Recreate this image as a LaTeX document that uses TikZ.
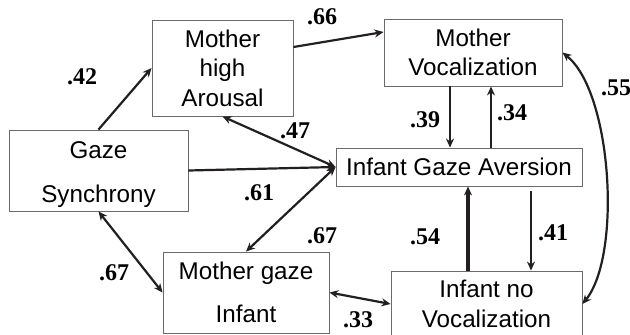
\documentclass[tikz,border=0pt]{standalone}
\usepackage{fontspec}
\setmainfont{Liberation Sans}
\newfontfamily\coeffont{Liberation Serif}
\usetikzlibrary{arrows.meta}
\definecolor{boxgray}{HTML}{6A6A6A}
\definecolor{inkdark}{HTML}{231F20}

\begin{document}
\begin{tikzpicture}[x=1pt,y=-1pt,
  box/.style={draw=boxgray, line width=0.9pt, inner sep=0pt, align=center,
    font=\fontsize{24.2}{29.5}\selectfont, text=black},
  coef/.style={font=\coeffont\bfseries\fontsize{24}{24}\selectfont, inner sep=0pt, text=black},
  link/.style={draw=inkdark, line width=2.2pt, -{Stealth[length=9pt,width=8pt]}},
  dlink/.style={draw=inkdark, line width=2.2pt, {Stealth[length=9pt,width=8pt]}-{Stealth[length=9pt,width=8pt]}},
]
\useasboundingbox[fill=white] (0,0) rectangle (630,335);

% boxes
\node[box, minimum width=141pt, minimum height=96pt] (MHA) at (222.5,68) {Mother\\high\\Arousal};
\node[box, minimum width=179pt, minimum height=81pt] (GS) at (98.5,170.5) {\rule{0pt}{24.5pt}Gaze\\[14.5pt]Synchrony};
\node[box, minimum width=178pt, minimum height=67pt] (MV) at (473,52.5) {Mother\\Vocalization};
\node[box, minimum width=246pt, minimum height=38pt] (IGA) at (459,167) {Infant Gaze Aversion};
\node[box, minimum width=166pt, minimum height=81pt] (MGI) at (246,292.5) {Mother gaze\\[13.5pt]Infant};
\node[box, minimum width=191pt, minimum height=66pt] (INV) at (486.5,304) {Infant no\\Vocalization};

% paths
\draw[link] (GS.north) -- (MHA.west);
\draw[link] ([yshift=21pt]MHA.east) -- ([yshift=20.5pt]MV.west);
\draw[dlink] (MHA.south) -- (IGA.west);
\draw[link] (GS.east) -- (IGA.west);
\draw[dlink] (MGI.north) -- (IGA.west);
\draw[dlink] (GS.south) -- (MGI.west);
\draw[dlink] (MGI.east) -- (INV.west);
\draw[link] ([xshift=-23pt]MV.south) -- ([xshift=-9pt]IGA.north);
\draw[link] ([xshift=32pt]IGA.north) -- ([xshift=18pt]MV.south);
\draw[link, line width=3.2pt] ([xshift=-18.5pt]INV.north) -- ([xshift=9pt]IGA.south);
\draw[link] ([xshift=72pt,yshift=-5pt]IGA.south) -- ([xshift=44.5pt]INV.north);
\draw[dlink] (MV.east) .. controls (612,92) and (622,255) .. (INV.east);

% coefficients
\node[coef] (c42) at (82,77) {.42};
\node[coef] (c66) at (322,17) {.66};
\node[coef] (c47) at (295,131) {.47};
\node[coef] (c61) at (259,193) {.61};
\node[coef] (c67a) at (322,236) {.67};
\node[coef] (c67b) at (114,273) {.67};
\node[coef] (c33) at (358,320) {.33};
\node[coef] (c39) at (425,120) {.39};
\node[coef] (c34) at (512,113) {.34};
\node[coef] (c55) at (616,88) {.55};
\node[coef] (c54) at (425,237) {.54};
\node[coef] (c41) at (553,233) {.41};
\end{tikzpicture}
\end{document}
